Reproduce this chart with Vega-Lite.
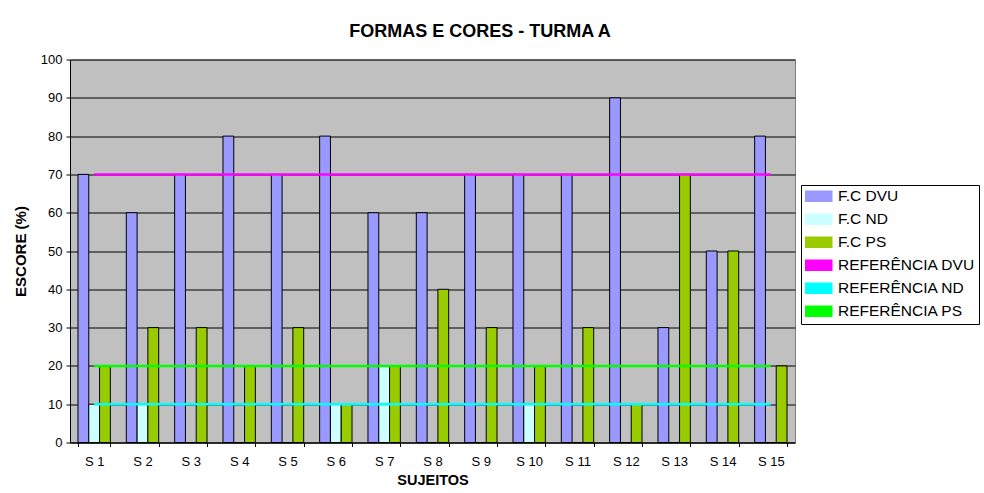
{
  "$schema": "https://vega.github.io/schema/vega-lite/v6.json",
  "width": 725,
  "height": 383,
  "autosize": {"type": "none"},
  "padding": {"left": 70, "top": 59.5, "right": 189, "bottom": 50.5},
  "background": "white",
  "title": {
    "text": "FORMAS E CORES - TURMA A",
    "frame": "group",
    "anchor": "middle",
    "dx": 47.5,
    "dy": 21,
    "offset": 19.5,
    "baseline": "alphabetic",
    "font": "Liberation Sans",
    "fontSize": 18,
    "fontWeight": "bold",
    "color": "black"
  },
  "config": {
    "font": "Liberation Sans",
    "view": {"fill": "#C0C0C0", "stroke": "#808080", "strokeWidth": 1}
  },
  "datasets": {
    "barras": [
      {"sujeito": "S 1", "serie": "F.C DVU", "valor": 70},
      {"sujeito": "S 1", "serie": "F.C ND", "valor": 10},
      {"sujeito": "S 1", "serie": "F.C PS", "valor": 20},
      {"sujeito": "S 2", "serie": "F.C DVU", "valor": 60},
      {"sujeito": "S 2", "serie": "F.C ND", "valor": 10},
      {"sujeito": "S 2", "serie": "F.C PS", "valor": 30},
      {"sujeito": "S 3", "serie": "F.C DVU", "valor": 70},
      {"sujeito": "S 3", "serie": "F.C ND", "valor": 0},
      {"sujeito": "S 3", "serie": "F.C PS", "valor": 30},
      {"sujeito": "S 4", "serie": "F.C DVU", "valor": 80},
      {"sujeito": "S 4", "serie": "F.C ND", "valor": 0},
      {"sujeito": "S 4", "serie": "F.C PS", "valor": 20},
      {"sujeito": "S 5", "serie": "F.C DVU", "valor": 70},
      {"sujeito": "S 5", "serie": "F.C ND", "valor": 0},
      {"sujeito": "S 5", "serie": "F.C PS", "valor": 30},
      {"sujeito": "S 6", "serie": "F.C DVU", "valor": 80},
      {"sujeito": "S 6", "serie": "F.C ND", "valor": 10},
      {"sujeito": "S 6", "serie": "F.C PS", "valor": 10},
      {"sujeito": "S 7", "serie": "F.C DVU", "valor": 60},
      {"sujeito": "S 7", "serie": "F.C ND", "valor": 20},
      {"sujeito": "S 7", "serie": "F.C PS", "valor": 20},
      {"sujeito": "S 8", "serie": "F.C DVU", "valor": 60},
      {"sujeito": "S 8", "serie": "F.C ND", "valor": 0},
      {"sujeito": "S 8", "serie": "F.C PS", "valor": 40},
      {"sujeito": "S 9", "serie": "F.C DVU", "valor": 70},
      {"sujeito": "S 9", "serie": "F.C ND", "valor": 0},
      {"sujeito": "S 9", "serie": "F.C PS", "valor": 30},
      {"sujeito": "S 10", "serie": "F.C DVU", "valor": 70},
      {"sujeito": "S 10", "serie": "F.C ND", "valor": 10},
      {"sujeito": "S 10", "serie": "F.C PS", "valor": 20},
      {"sujeito": "S 11", "serie": "F.C DVU", "valor": 70},
      {"sujeito": "S 11", "serie": "F.C ND", "valor": 0},
      {"sujeito": "S 11", "serie": "F.C PS", "valor": 30},
      {"sujeito": "S 12", "serie": "F.C DVU", "valor": 90},
      {"sujeito": "S 12", "serie": "F.C ND", "valor": 0},
      {"sujeito": "S 12", "serie": "F.C PS", "valor": 10},
      {"sujeito": "S 13", "serie": "F.C DVU", "valor": 30},
      {"sujeito": "S 13", "serie": "F.C ND", "valor": 0},
      {"sujeito": "S 13", "serie": "F.C PS", "valor": 70},
      {"sujeito": "S 14", "serie": "F.C DVU", "valor": 50},
      {"sujeito": "S 14", "serie": "F.C ND", "valor": 0},
      {"sujeito": "S 14", "serie": "F.C PS", "valor": 50},
      {"sujeito": "S 15", "serie": "F.C DVU", "valor": 80},
      {"sujeito": "S 15", "serie": "F.C ND", "valor": 0},
      {"sujeito": "S 15", "serie": "F.C PS", "valor": 20}
    ],
    "referencias": [
      {"sujeito": "S 1", "serie": "REFERÊNCIA DVU", "valor": 70},
      {"sujeito": "S 15", "serie": "REFERÊNCIA DVU", "valor": 70},
      {"sujeito": "S 1", "serie": "REFERÊNCIA ND", "valor": 10},
      {"sujeito": "S 15", "serie": "REFERÊNCIA ND", "valor": 10},
      {"sujeito": "S 1", "serie": "REFERÊNCIA PS", "valor": 20},
      {"sujeito": "S 15", "serie": "REFERÊNCIA PS", "valor": 20}
    ]
  },
  "encoding": {
    "x": {
      "field": "sujeito",
      "type": "nominal",
      "scale": {
        "domain": ["S 1", "S 2", "S 3", "S 4", "S 5", "S 6", "S 7", "S 8", "S 9", "S 10", "S 11", "S 12", "S 13", "S 14", "S 15"],
        "paddingInner": 0.33,
        "paddingOuter": 0.165
      },
      "axis": {
        "title": "SUJEITOS",
        "labelAngle": 0,
        "tickBand": "extent",
        "tickSize": 4,
        "tickColor": "black",
        "domainColor": "black",
        "labelPadding": 9,
        "labelFontSize": 13,
        "labelColor": "black",
        "titleFontSize": 14.5,
        "titleFontWeight": "bold",
        "titleColor": "black",
        "titlePadding": 5
      }
    },
    "y": {
      "field": "valor",
      "type": "quantitative",
      "scale": {"domain": [0, 100], "nice": false},
      "axis": {
        "title": "ESCORE (%)",
        "values": [0, 10, 20, 30, 40, 50, 60, 70, 80, 90, 100],
        "grid": true,
        "gridColor": "black",
        "gridWidth": 1,
        "gridOpacity": 1,
        "tickSize": 4,
        "tickColor": "black",
        "domainColor": "black",
        "labelPadding": 4,
        "labelFontSize": 13,
        "labelColor": "black",
        "titleFontSize": 15,
        "titleFontWeight": "bold",
        "titleColor": "black",
        "titlePadding": 12
      }
    }
  },
  "layer": [
    {
      "data": {"name": "barras"},
      "mark": {"type": "bar", "stroke": "black", "strokeWidth": 1},
      "encoding": {
        "xOffset": {
          "field": "serie",
          "type": "nominal",
          "scale": {"domain": ["F.C DVU", "F.C ND", "F.C PS"], "paddingInner": 0, "paddingOuter": 0}
        },
        "color": {
          "field": "serie",
          "type": "nominal",
          "scale": {
            "domain": ["F.C DVU", "F.C ND", "F.C PS", "REFERÊNCIA DVU", "REFERÊNCIA ND", "REFERÊNCIA PS"],
            "range": ["#9999FF", "#CCFFFF", "#99CC00", "#FF00FF", "#00FFFF", "#00FF00"]
          },
          "legend": {
            "title": null,
            "orient": "none",
            "legendX": 731,
            "legendY": 125.5,
            "padding": 3.5,
            "strokeColor": "black",
            "fillColor": "white",
            "cornerRadius": 0,
            "symbolSize": 169,
            "symbolType": "M-1,-0.77H3V0.77H-1Z",
            "labelFontSize": 15.5,
            "labelColor": "black",
            "labelOffset": 18,
            "labelLimit": 300,
            "rowPadding": 5,
            "encode": {
              "symbols": {
                "shape": {"value": {"expr": "indexof(['F.C DVU','F.C ND','F.C PS'], datum.value) >= 0 ? 'M-1,-0.77H3V0.77H-1Z' : 'M-1,0H3'"}},
                "fill": {"value": {"expr": "datum.value == 'F.C DVU' ? '#9999FF' : datum.value == 'F.C ND' ? '#CCFFFF' : datum.value == 'F.C PS' ? '#99CC00' : 'transparent'"}},
                "stroke": {"value": {"expr": "datum.value == 'REFERÊNCIA DVU' ? '#FF00FF' : datum.value == 'REFERÊNCIA ND' ? '#00FFFF' : datum.value == 'REFERÊNCIA PS' ? '#00FF00' : 'black'"}},
                "strokeWidth": {"value": {"expr": "indexof(['F.C DVU','F.C ND','F.C PS'], datum.value) >= 0 ? 1 : 3"}},
                "opacity": {"value": 1}
              }
            }
          }
        }
      }
    },
    {
      "data": {"name": "referencias"},
      "mark": {"type": "line", "strokeWidth": 2.5},
      "encoding": {
        "color": {
          "field": "serie",
          "type": "nominal",
          "scale": {
            "domain": ["F.C DVU", "F.C ND", "F.C PS", "REFERÊNCIA DVU", "REFERÊNCIA ND", "REFERÊNCIA PS"],
            "range": ["#9999FF", "#CCFFFF", "#99CC00", "#FF00FF", "#00FFFF", "#00FF00"]
          }
        }
      }
    }
  ]
}
